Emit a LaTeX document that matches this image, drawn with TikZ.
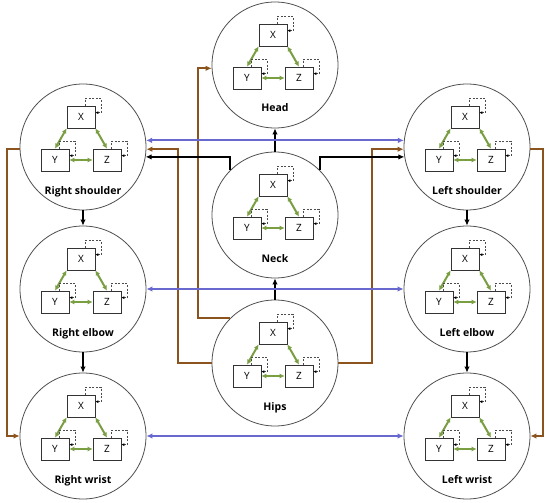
\documentclass[tikz,border=0pt]{standalone}
\usepackage{fontspec}
\setmainfont{Open Sans}
\usetikzlibrary{arrows.meta,calc}
\definecolor{jgreen}{RGB}{122,158,66}
\definecolor{jblue}{RGB}{104,104,206}
\definecolor{jbrown}{RGB}{139,84,30}
\definecolor{jgray}{RGB}{80,80,80}
\tikzset{
  joint/.style={circle, draw=jgray, line width=0.8pt, minimum size=126pt, inner sep=0pt},
  axisbox/.style={draw=black!80, line width=0.7pt, minimum width=28pt, minimum height=22pt, inner sep=0pt, font=\fontsize{10}{12}\selectfont},
  jlabel/.style={font=\bfseries\fontsize{10.5}{12}\selectfont, anchor=base, inner sep=0pt},
  coupling/.style={jgreen, line width=2pt, {Latex[length=5pt,width=5pt]}-{Latex[length=5pt,width=5pt]}},
  selfloop/.style={black!70, line width=0.6pt, dash pattern=on 2pt off 1.5pt, -{Latex[length=3pt,width=3pt,color=black]}},
  link/.style={line width=1.9pt, -{Latex[length=6pt,width=5.5pt]}},
  blink/.style={jblue, line width=1.9pt, {Latex[length=6pt,width=5.5pt]}-{Latex[length=6pt,width=5.5pt]}},
  brlink/.style={link, jbrown},
}
\newcommand\jointnode[4]{%
  \node[joint] (#1) at (#2,#3) {};
  \node[axisbox] (#1x) at (#2-2,#3-30) {X};
  \node[axisbox] (#1y) at (#2-28,#3+13) {Y};
  \node[axisbox] (#1z) at (#2+24,#3+13) {Z};
  \node[jlabel] (#1l) at (#2,#3+47) {#4};
  \draw[coupling] (#1x.south west) -- (#1y.north);
  \draw[coupling] (#1x.south east) -- (#1z.north);
  \draw[coupling] (#1y.east) -- (#1z.west);
  \foreach \q in {x,y,z}{%
    \draw[selfloop] ($(#1\q.north east)+(-10,0)$) -- ++(0,-7) -| ($(#1\q.north east)+(6,7)$) -- ($(#1\q.north east)+(0,7)$);
  }%
}
\begin{document}
\begin{tikzpicture}[x=1pt,y=-1pt]
\useasboundingbox (0,0) rectangle (550,503);
\jointnode{head}{275}{65}{Head}
\jointnode{rs}{83}{147}{Right shoulder}
\jointnode{ls}{467}{147}{Left shoulder}
\jointnode{neck}{275}{215}{Neck}
\jointnode{re}{83}{289}{Right elbow}
\jointnode{le}{467}{289}{Left elbow}
\jointnode{hips}{275}{363}{Hips}
\jointnode{rw}{83}{436}{Right wrist}
\jointnode{lw}{467}{436}{Left wrist}
% black links
\draw[link] (rs) -- (re);
\draw[link] (re) -- (rw);
\draw[link] (ls) -- (le);
\draw[link] (le) -- (lw);
\draw[link] (hips) -- (neck);
\draw[link] (neck) -- (head);
% brown links
\draw[brlink] (hips.west) -- ++(-34,0) |- (rs.-2);
\draw[brlink] (hips.135) -- ++(-32,0) |- (head.183);
\draw[brlink] (hips.east) -- ++(34,0) |- (ls.182);
\draw[brlink] (rs.182) -- ++(-13,0) |- (rw.west);
\draw[brlink] (ls.-2) -- ++(13,0) |- (lw.east);
% black neck to shoulders
\draw[link] (neck.135) |- (rs.-9);
\draw[link] (neck.45) |- (ls.189);
% blue links
\draw[blink] (rs.6) -- (ls.174);
\draw[blink] (re) -- (le);
\draw[blink] (rw) -- (lw);
\end{tikzpicture}
\end{document}
